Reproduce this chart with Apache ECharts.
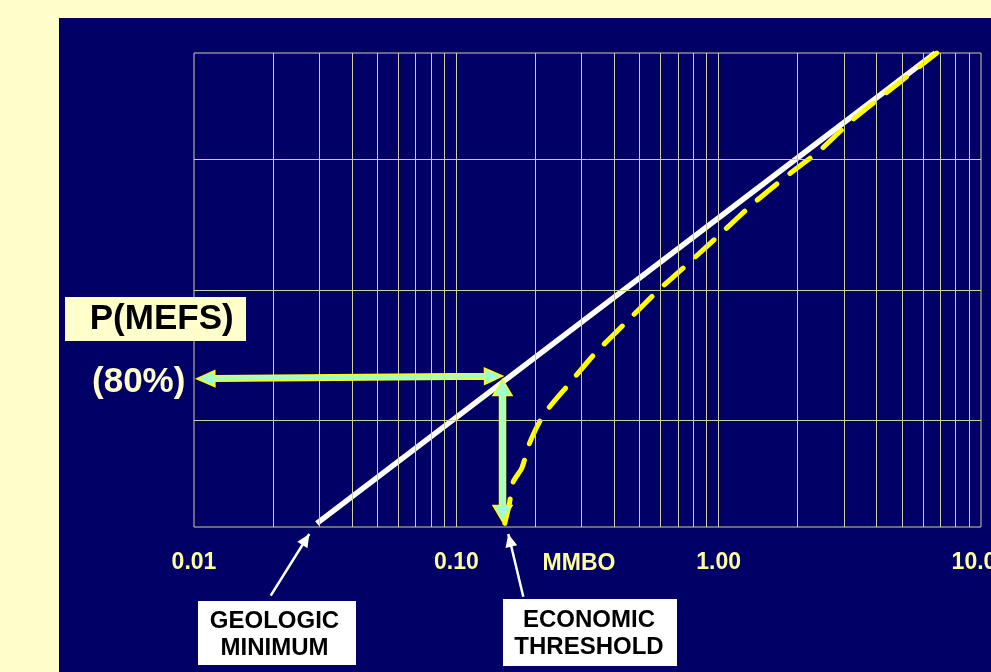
<!DOCTYPE html>
<html><head><meta charset="utf-8">
<script src="https://cdn.jsdelivr.net/npm/echarts@6/dist/echarts.min.js"></script>
<style>
html,body{margin:0;padding:0;background:#FFFFCC;overflow:hidden;}
#bg{position:absolute;left:59px;top:18px;width:932px;height:654px;background:#000066;}
#chart{position:absolute;left:0;top:0;width:991px;height:672px;}
</style></head><body>
<div id="bg"></div><div id="chart"></div>
<script>
// ---- data ----
const xTickLabels = ['0.01', '0.10', '1.00', '10.0'];
const probGridLines = [10, 50, 90];                  // % (probability scale), interior lines
const logMinorMultipliers = [1, 2, 3, 4, 5, 6, 7, 8, 9];
const decades = [0.01, 0.1, 1];
const whiteX = [0.0294, 6.7];
const whiteP = [98.9, 1.0];
const yellowX = [0.153, 0.1593, 0.1649, 0.1775, 0.191, 0.2147, 0.2673, 0.3379, 0.4462, 0.5808, 0.766, 1.027, 1.349, 1.803, 2.436, 3.217, 4.31, 5.86, 6.78];
const yellowP = [98.9, 98.2, 97.0, 96.0, 93.2, 89.0, 82.4, 73.3, 62.2, 50.7, 39.7, 28.7, 19.9, 13.3, 8.5, 4.8, 2.7, 1.4, 1.0];
const thresholdX = 0.15;
const mefsLeftX = 0.01025;
const mefsP = [80.8, 80.1];      // horizontal arrow (left, right)
const thresholdP = [81.0, 98.85]; // vertical arrow (top, bottom)

// ---- helpers ----
function probit(p){
  const a=[-3.969683028665376e+01,2.209460984245205e+02,-2.759285104469687e+02,1.383577518672690e+02,-3.066479806614716e+01,2.506628277459239e+00];
  const b=[-5.447609879822406e+01,1.615858368580409e+02,-1.556989798598866e+02,6.680131188771972e+01,-1.328068155288572e+01];
  const c=[-7.784894002430293e-03,-3.223964580411365e-01,-2.400758277161838e+00,-2.549732539343734e+00,4.374664141464968e+00,2.938163982698783e+00];
  const d=[7.784695709041462e-03,3.224671290700398e-01,2.445134137142996e+00,3.754408661907416e+00];
  const pl=0.02425, ph=1-pl; let q,r;
  if(p<pl){q=Math.sqrt(-2*Math.log(p));return (((((c[0]*q+c[1])*q+c[2])*q+c[3])*q+c[4])*q+c[5])/((((d[0]*q+d[1])*q+d[2])*q+d[3])*q+1);}
  if(p>ph){q=Math.sqrt(-2*Math.log(1-p));return -(((((c[0]*q+c[1])*q+c[2])*q+c[3])*q+c[4])*q+c[5])/((((d[0]*q+d[1])*q+d[2])*q+d[3])*q+1);}
  q=p-0.5;r=q*q;return (((((a[0]*r+a[1])*r+a[2])*r+a[3])*r+a[4])*r+a[5])*q/(((((b[0]*r+b[1])*r+b[2])*r+b[3])*r+b[4])*r+1);
}
const yv = p => -probit(p / 100);

const FONT = "'Liberation Sans', Arial, sans-serif";
const GRID_COLOR = '#cfcf9c';

const vLines = [];
decades.forEach(d => logMinorMultipliers.forEach(m => { if (!(d === 0.01 && m === 1)) vLines.push(+(d * m).toPrecision(3)); }));
const gridMarks = vLines.map(v => ({ xAxis: v }))
  .concat(probGridLines.map(p => ({ yAxis: yv(p) })));

const chart = echarts.init(document.getElementById('chart'), null, { renderer: 'canvas' });

chart.setOption({
  backgroundColor: 'transparent',
  animation: false,
  grid: {
    left: 194, top: 53, width: 787, height: 474, containLabel: false, outerBoundsMode: 'none',
    show: true, borderColor: GRID_COLOR, borderWidth: 1, backgroundColor: 'transparent'
  },
  xAxis: {
    type: 'log', logBase: 10, min: 0.01, max: 10,
    axisLine: { show: false }, axisTick: { show: false }, splitLine: { show: false },
    minorTick: { show: false }, minorSplitLine: { show: false },
    axisLabel: {
      show: true, margin: 24, color: '#FFFF99', fontWeight: 'bold', fontSize: 23, fontFamily: FONT,
      showMinLabel: true, showMaxLabel: true, hideOverlap: false,
      formatter: v => {
        const e = Math.round(Math.log10(v));
        const t = xTickLabels[e + 2];
        if (t === undefined) return '';
        return e === 1 ? '{r|' + t + '}' : t;
      },
      rich: { r: { color: '#FFFF99', fontWeight: 'bold', fontSize: 23, fontFamily: FONT, padding: [0, 14, 0, 0] } }
    }
  },
  yAxis: {
    type: 'value', min: yv(99), max: yv(1), show: false,
    splitLine: { show: false }
  },
  series: [
    {
      type: 'line', z: 1, silent: true, symbol: 'none',
      data: whiteX.map((x, i) => [x, yv(whiteP[i])]),
      lineStyle: { opacity: 0 },
      markLine: {
        silent: true, symbol: 'none', animation: false,
        label: { show: false },
        lineStyle: { color: GRID_COLOR, width: 1, type: 'solid' },
        emphasis: { disabled: true },
        data: gridMarks
      }
    },
    {
      type: 'line', z: 3, silent: true, symbol: 'none',
      data: whiteX.map((x, i) => [x, yv(whiteP[i])]),
      lineStyle: { color: '#FFFFFF', width: 5.5 }
    },
    {
      type: 'line', z: 4, silent: true, symbol: 'none', smooth: 0.2,
      data: yellowX.map((x, i) => [x, yv(yellowP[i])]),
      lineStyle: { color: '#FFFF00', width: 5, type: [25, 17], cap: 'round' }
    }
  ]
});

function px(x, p) { return chart.convertToPixel({ gridIndex: 0 }, [x, yv(p)]); }

function doubleArrow(p1, p2, sw, L, hw) {
  const dx = p2[0] - p1[0], dy = p2[1] - p1[1];
  const len = Math.hypot(dx, dy);
  const ux = dx / len, uy = dy / len, nx = -uy, ny = ux;
  const P = (b, a, n) => [b[0] + ux * a + nx * n, b[1] + uy * a + ny * n];
  return [p1, P(p1, L, hw), P(p1, L, sw), P(p2, -L, sw), P(p2, -L, hw), p2,
          P(p2, -L, -hw), P(p2, -L, -sw), P(p1, L, -sw), P(p1, L, -hw)];
}
function arrowHead(from, tip, L, hw) {
  const dx = tip[0] - from[0], dy = tip[1] - from[1];
  const len = Math.hypot(dx, dy);
  const ux = dx / len, uy = dy / len, nx = -uy, ny = ux;
  return [tip, [tip[0] - ux * L + nx * hw, tip[1] - uy * L + ny * hw], [tip[0] - ux * L - nx * hw, tip[1] - uy * L - ny * hw]];
}

const hA = doubleArrow(px(mefsLeftX, mefsP[0]), px(thresholdX, mefsP[1]), 2.7, 18, 8);
const vA = doubleArrow(px(thresholdX, thresholdP[0]), px(thresholdX, thresholdP[1]), 3, 16, 9.5);

const geoFrom = [270.7, 595.7], geoTip = [309.3, 534];
const ecoFrom = [523.3, 596.7], ecoTip = [508.3, 534];

const txt = (x, y, text, font, fill, lh) => ({
  type: 'text', x, y, silent: true, z: 100,
  style: { text, font, fill, align: 'center', verticalAlign: 'middle', textAlign: 'center', textVerticalAlign: 'middle', lineHeight: lh }
});

chart.setOption({
  graphic: { elements: [
    { type: 'polygon', z: 90, silent: true, shape: { points: hA }, style: { fill: '#A0FFD0', stroke: '#FFFF00', lineWidth: 1.5 } },
    { type: 'polygon', z: 90, silent: true, shape: { points: vA }, style: { fill: '#A0FFD0', stroke: '#FFFF00', lineWidth: 1.5 } },
    { type: 'rect', z: 95, silent: true, shape: { x: 65, y: 297, width: 181, height: 44 }, style: { fill: '#FFFFCC' } },
    txt(161.7, 319, 'P(MEFS)', 'bold 35px ' + FONT, '#000000'),
    txt(138.7, 382, '(80%)', 'bold 35px ' + FONT, '#FFFFCC'),
    txt(579, 564, 'MMBO', 'bold 23px ' + FONT, '#FFFF99'),
    { type: 'rect', z: 95, silent: true, shape: { x: 198, y: 601, width: 158, height: 64 }, style: { fill: '#FFFFFF' } },
    txt(274.5, 634.5, 'GEOLOGIC\nMINIMUM', 'bold 24px ' + FONT, '#000000', 27),
    { type: 'rect', z: 95, silent: true, shape: { x: 503, y: 599, width: 174, height: 67 }, style: { fill: '#FFFFFF' } },
    txt(589, 634, 'ECONOMIC\nTHRESHOLD', 'bold 24px ' + FONT, '#000000', 27),
    { type: 'line', z: 95, silent: true, shape: { x1: geoFrom[0], y1: geoFrom[1], x2: geoTip[0], y2: geoTip[1] }, style: { stroke: '#FFFFFF', lineWidth: 2.5 } },
    { type: 'polygon', z: 96, silent: true, shape: { points: arrowHead(geoFrom, geoTip, 13, 6) }, style: { fill: '#FFFFFF' } },
    { type: 'line', z: 95, silent: true, shape: { x1: ecoFrom[0], y1: ecoFrom[1], x2: ecoTip[0], y2: ecoTip[1] }, style: { stroke: '#FFFFFF', lineWidth: 2.5 } },
    { type: 'polygon', z: 96, silent: true, shape: { points: arrowHead(ecoFrom, ecoTip, 13, 6) }, style: { fill: '#FFFFFF' } }
  ] }
});
</script></body></html>
